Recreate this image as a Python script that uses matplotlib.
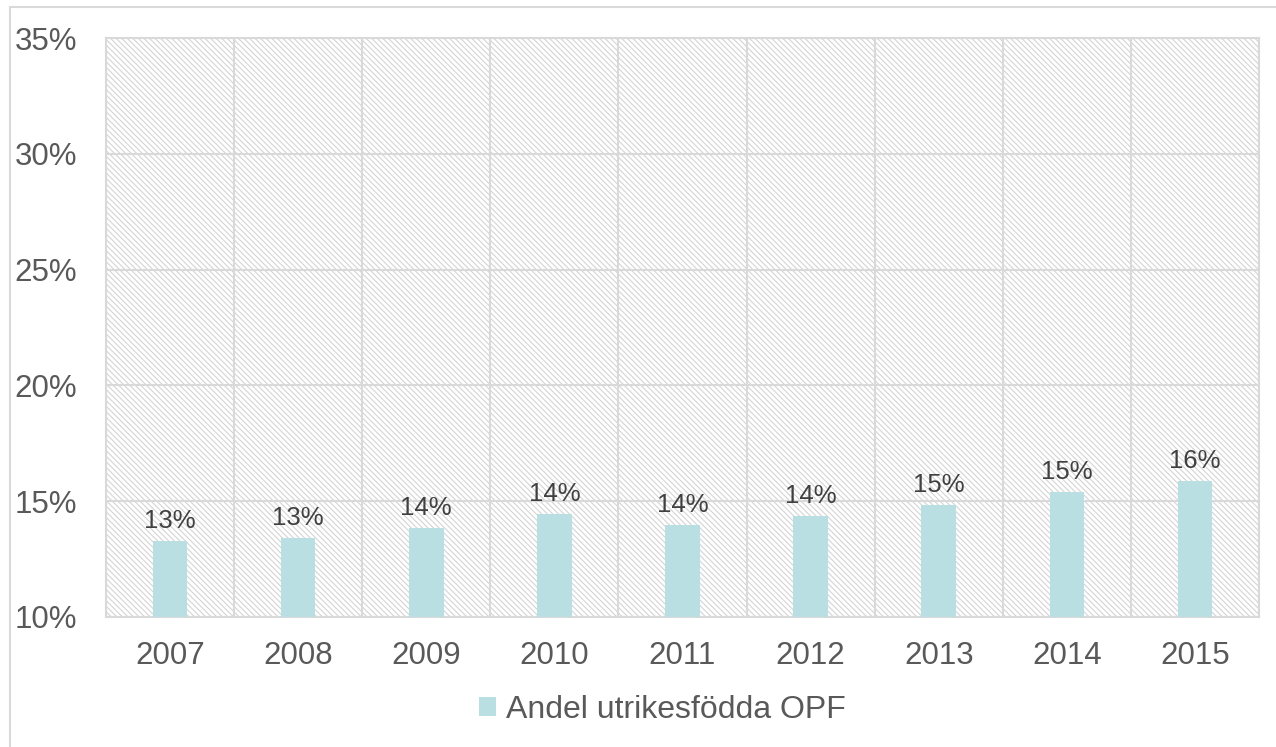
import matplotlib
matplotlib.use('Agg')
import matplotlib.pyplot as plt
from matplotlib.patches import Rectangle

plt.rcParams['font.family'] = ['Liberation Sans', 'DejaVu Sans']
plt.rcParams['hatch.color'] = '#d4d4d4'
plt.rcParams['hatch.linewidth'] = 0.8

ar = ['2007', '2008', '2009', '2010', '2011', '2012', '2013', '2014', '2015']
andel = [13.28, 13.41, 13.84, 14.45, 13.97, 14.36, 14.84, 15.40, 15.87]
etiketter = ['13%', '13%', '14%', '14%', '14%', '14%', '15%', '15%', '16%']
y_ticks = [10, 15, 20, 25, 30, 35]

grid_farg = '#d9d9d9'
text_farg = '#595959'
stapel_farg = '#b9dfe2'

fig = plt.figure(figsize=(12.76, 7.47), dpi=100)
ax = fig.add_axes([106 / 1276, 1 - 617 / 747, (1259 - 106) / 1276, (617 - 38) / 747])

# ram runt diagrammet (bara vänster och överkant syns)
fig.patches.append(Rectangle((10 / 1276, -0.1), 1.2, 1 - 7 / 747 + 0.1,
                             transform=fig.transFigure, fill=False,
                             edgecolor=grid_farg, linewidth=1.5, zorder=0))

# streckad bakgrund
ax.add_patch(Rectangle((0, 0), 1, 1, transform=ax.transAxes, facecolor='white',
                       hatch='\\\\\\\\\\\\', edgecolor='#d4d4d4', linewidth=0, zorder=0))

x = list(range(len(ar)))
ax.bar(x, [v - 10 for v in andel], bottom=10, width=0.27, color=stapel_farg,
       label='Andel utrikesfödda OPF', zorder=3)

for xi, v, t in zip(x, andel, etiketter):
    ax.text(xi, v + 0.35, t, ha='center', va='bottom', fontsize=18.5, color='#404040', zorder=4)

ax.set_xlim(-0.5, len(ar) - 0.5)
ax.set_ylim(10, 35)
ax.set_yticks(y_ticks)
ax.set_yticklabels([f'{t}%' for t in y_ticks])
ax.set_xticks(x)
ax.set_xticklabels(ar)

for yt in y_ticks:
    ax.axhline(yt, color=grid_farg, linewidth=1.5, zorder=1)
for b in range(len(ar) + 1):
    ax.axvline(b - 0.5, color=grid_farg, linewidth=1.5, zorder=1)

for s in ax.spines.values():
    s.set_color(grid_farg)
    s.set_linewidth(1.5)

ax.tick_params(axis='both', length=0, labelsize=22.5, colors=text_farg)
ax.tick_params(axis='y', pad=21)
ax.tick_params(axis='x', pad=17)

leg = ax.legend(loc='center', bbox_to_anchor=(556 / 1153, -93 / 579), frameon=False,
                fontsize=23, handlelength=0.55, handleheight=0.55, handletextpad=0.3)
for t in leg.get_texts():
    t.set_color(text_farg)

fig.savefig('out.png', dpi=100)
